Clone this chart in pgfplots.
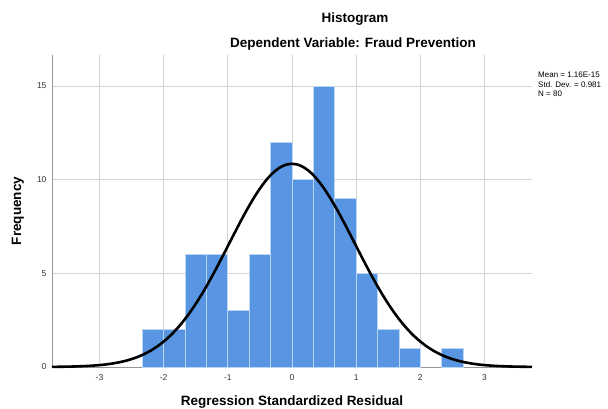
\documentclass[border=0pt]{standalone}
\usepackage{pgfplots}
\pgfplotsset{compat=1.18}
\usepackage{fontspec}
\setmainfont{Liberation Sans}
\definecolor{barblue}{RGB}{88,150,228}
\definecolor{gridgray}{RGB}{212,212,212}
\definecolor{axgray}{RGB}{150,150,150}
\begin{document}
\begin{tikzpicture}
\useasboundingbox (0pt,0pt) rectangle (608pt,409pt);
\begin{axis}[
  at={(52pt,42pt)}, anchor=south west,
  scale only axis, width=480pt, height=312pt,
  xmin=-3.74, xmax=3.74, ymin=0, ymax=16.66,
  axis lines*=left,
  axis line style={draw=axgray, line width=0.8pt},
  xtick={-3,-2,-1,0,1,2,3}, ytick={0,5,10,15},
  major tick length=0pt,
  grid=major, grid style={draw=gridgray, line width=0.8pt},
  tick label style={font=\fontsize{8.5}{9}\selectfont, text=black!80},
  /pgf/number format/assume math mode=true,
  xticklabel style={yshift=-4pt},
  yticklabel style={xshift=-2pt},
  clip=false,
]
\addplot[ybar, bar width=0.3333, fill=barblue, draw=white!60!barblue, line width=0.7pt] coordinates {
(-2.1667,2) (-1.8333,2) (-1.5,6) (-1.1667,6) (-0.8333,3) (-0.5,6) (-0.1667,12)
(0.1667,10) (0.5,15) (0.8333,9) (1.1667,5) (1.5,2) (1.8333,1) (2.5,1)
};
\addplot[black, line width=2.6pt, smooth, no marks] coordinates {
(-3.74,0.0076) (-3.6,0.0129) (-3.4,0.0267) (-3.2,0.0531) (-3.0,0.1011)
(-2.9,0.1374) (-2.8,0.1847) (-2.7,0.2458) (-2.6,0.3238) (-2.5,0.4220)
(-2.4,0.5442) (-2.3,0.6946) (-2.2,0.8777) (-2.1,1.0975) (-2.0,1.358)
(-1.9,1.663) (-1.8,2.016) (-1.7,2.418) (-1.6,2.870) (-1.5,3.371)
(-1.4,3.919) (-1.3,4.509) (-1.2,5.135) (-1.1,5.787) (-1.0,6.454)
(-0.9,7.123) (-0.8,7.781) (-0.7,8.411) (-0.6,8.999) (-0.5,9.528)
(-0.4,9.985) (-0.3,10.354) (-0.2,10.627) (-0.1,10.794) (0,10.85)
(0.1,10.794) (0.2,10.627) (0.3,10.354) (0.4,9.985) (0.5,9.528)
(0.6,8.999) (0.7,8.411) (0.8,7.781) (0.9,7.123) (1.0,6.454)
(1.1,5.787) (1.2,5.135) (1.3,4.509) (1.4,3.919) (1.5,3.371)
(1.6,2.870) (1.7,2.418) (1.8,2.016) (1.9,1.663) (2.0,1.358)
(2.1,1.0975) (2.2,0.8777) (2.3,0.6946) (2.4,0.5442) (2.5,0.4220)
(2.6,0.3238) (2.7,0.2458) (2.8,0.1847) (2.9,0.1374) (3.0,0.1011)
(3.2,0.0531) (3.4,0.0267) (3.6,0.0129) (3.74,0.0076)
};
\end{axis}
\node[font=\bfseries\fontsize{13.5}{15}\selectfont] at (355pt,390pt) {Histogram};
\node[font=\bfseries\fontsize{13.5}{15}\selectfont] at (353pt,365pt) {Dependent Variable: Fraud Prevention};
\node[anchor=north west, inner sep=0pt, align=left, font=\fontsize{8}{9.5}\selectfont] at (538pt,337pt) {Mean = 1.16E-15\\Std. Dev. = 0.981\\N = 80};
\node[font=\bfseries\fontsize{13.5}{15}\selectfont] at (292pt,7pt) {Regression Standardized Residual};
\node[font=\bfseries\fontsize{13.5}{15}\selectfont, rotate=90] at (18pt,198pt) {Frequency};
\end{tikzpicture}
\end{document}
